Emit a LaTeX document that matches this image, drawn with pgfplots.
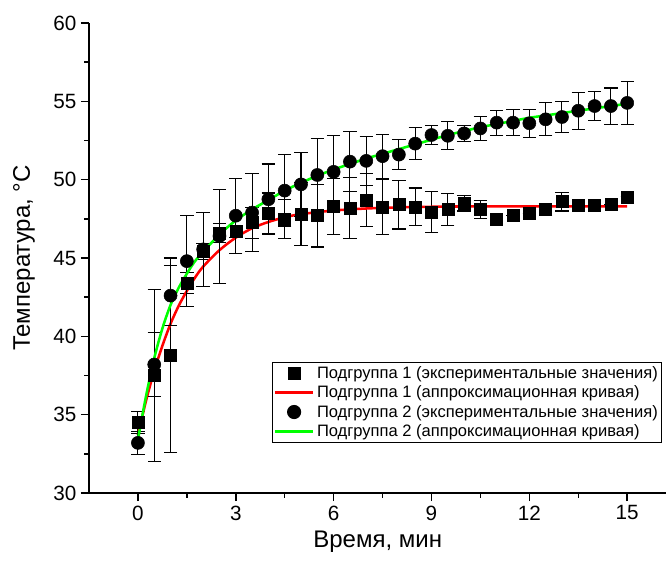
\documentclass[border=0pt]{standalone}
\usepackage{fontspec}
\setmainfont{Liberation Sans}
\usepackage{pgfplots}
\pgfplotsset{compat=1.18}

% x y err
\pgfplotstableread{
x y e
0 34.5 0.7
0.5 37.5 5.5
1 38.8 6.2
1.5 43.4 0.65
2 45.4 0.5
2.5 46.6 0.6
3 46.7 0.4
3.5 47.25 1.0
4 47.85 1.3
4.5 47.5 1.25
5 47.8 2.0
5.5 47.7 2.0
6 48.3 1.8
6.5 48.2 1.95
7 48.7 1.7
7.5 48.27 1.75
8 48.4 1.55
8.5 48.27 1.2
9 47.95 1.3
9.5 48.1 1.0
10 48.5 0.5
10.5 48.1 0.55
11 47.5 0
11.5 47.7 0
12 47.85 0
12.5 48.1 0.4
13 48.6 0.6
13.5 48.35 0
14 48.35 0
14.5 48.4 0
15 48.9 0
}\groupA

\pgfplotstableread{
x y e
0 33.2 0.75
0.5 38.2 2.05
1 42.6 1.9
1.5 44.8 2.9
2 45.55 2.35
2.5 46.4 3.0
3 47.7 2.4
3.5 47.9 2.5
4 48.75 2.25
4.5 49.3 2.3
5 49.7 2.05
5.5 50.3 2.3
6 50.5 2.3
6.5 51.15 1.9
7 51.2 1.55
7.5 51.5 1.4
8 51.6 0.95
8.5 52.3 1.0
9 52.85 0.6
9.5 52.8 0.9
10 52.95 0.5
10.5 53.27 0.75
11 53.64 0.8
11.5 53.64 0.85
12 53.6 0.9
12.5 53.85 1.05
13 54.0 1.0
13.5 54.4 1.17
14 54.7 0.9
14.5 54.7 1.15
15 54.9 1.35
}\groupB

\begin{document}
\begin{tikzpicture}
\begin{axis}[
    scale only axis,
    width=433pt, height=352.5pt,
    xmin=-1.5, xmax=16.2,
    ymin=30, ymax=60,
    axis x line*=bottom,
    axis y line*=left,
    axis line style={line width=1.4pt, -},
    xtick={0,3,...,15},
    ytick={30,35,...,60},
    minor x tick num=1,
    minor y tick num=1,
    tick align=outside,
    major tick length=6pt,
    minor tick length=3.5pt,
    every tick/.style={black, line width=1.1pt},
    tick label style={font=\fontsize{15.5}{18}\selectfont},
    /pgf/number format/assume math mode=true,
    xlabel={Время, мин},
    ylabel={Температура, °C},
    label style={font=\fontsize{18}{21}\selectfont},
    xlabel style={yshift=-1pt},
    ylabel style={yshift=7pt},
    legend cell align=left,
    legend style={at={(rel axis cs:0.317,0.279)}, anchor=north west,
        draw=black, line width=0.8pt, inner sep=1pt,
        font=\fontsize{12.4}{15}\selectfont, row sep=0pt},
    legend image code/.code={\draw[mark repeat=2,mark phase=2]
        plot coordinates {(0cm,0cm)(0.5cm,0cm)(1cm,0cm)};},
    clip=false,
]
\addplot[only marks, mark=square*, mark size=4.5pt, black,
    error bars/.cd, y dir=both, y explicit,
    error bar style={line width=0.8pt, black},
    error mark options={rotate=90, mark size=5pt, line width=0.8pt}]
    table[x=x, y=y, y error=e] {\groupA};
\addlegendentry{Подгруппа 1 (экспериментальные значения)}

\addplot[red, line width=1.9pt, smooth, no marks] coordinates {
(0,33.7) (0.25,35.9) (0.5,37.8) (0.75,39.4) (1,40.8) (1.25,41.95)
(1.5,42.9) (1.75,43.75) (2,44.45) (2.5,45.5) (3,46.3) (3.5,46.9)
(4,47.3) (4.5,47.6) (5,47.8) (6,48.03) (7,48.16) (8,48.23) (9,48.27)
(10,48.29) (12,48.3) (15,48.3)};
\addlegendentry{Подгруппа 1 (аппроксимационная кривая)}

\addplot[only marks, mark=*, mark size=4.9pt, black,
    error bars/.cd, y dir=both, y explicit,
    error bar style={line width=0.8pt, black},
    error mark options={rotate=90, mark size=5pt, line width=0.8pt}]
    table[x=x, y=y, y error=e] {\groupB};
\addlegendentry{Подгруппа 2 (экспериментальные значения)}

\addplot[green, line width=1.9pt, smooth, no marks] coordinates {
(0,33.4) (0.25,36.2) (0.5,38.6) (0.75,40.5) (1,42.0) (1.25,43.1)
(1.5,44.0) (1.75,44.8) (2,45.4) (2.5,46.5) (3,47.4) (3.5,48.1)
(4,48.7) (4.5,49.3) (5,49.8) (5.5,50.25) (6,50.65) (6.5,51.0)
(7,51.35) (7.5,51.65) (8,51.95) (8.5,52.25) (9,52.55) (9.5,52.85)
(10,53.1) (10.5,53.35) (11,53.55) (11.5,53.75) (12,53.95) (12.5,54.1)
(13,54.25) (13.5,54.4) (14,54.55) (14.5,54.7) (15,54.85)};
\addlegendentry{Подгруппа 2 (аппроксимационная кривая)}
\end{axis}
\pgfresetboundingbox
\path (current axis.south west) ++(-66.75pt,-55.5pt) coordinate (bbA);
\path (current axis.north east) ++(0.5pt,17.25pt) coordinate (bbB);
\useasboundingbox (bbA) rectangle (bbB);
\end{tikzpicture}
\end{document}
